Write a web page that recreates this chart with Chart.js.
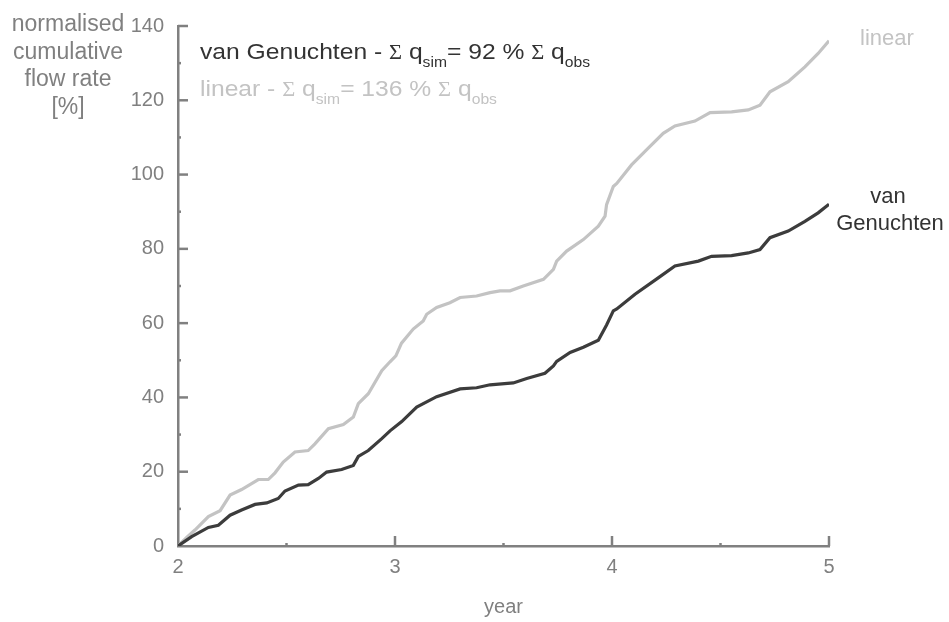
<!DOCTYPE html>
<html>
<head>
<meta charset="utf-8">
<script src="https://cdn.jsdelivr.net/npm/chart.js@4.4.0/dist/chart.umd.min.js"></script>
<style>
    body { margin: 0; background: #ffffff; }
    #wrap { width: 949px; height: 622px; }
</style>
</head>
<body>
<div id="wrap"><canvas id="flowChart" width="949" height="622"></canvas></div>
<script>
// Cumulative flow, linear model
const linearYears = [2.0, 2.04, 2.078, 2.14, 2.194, 2.24, 2.293, 2.37, 2.416, 2.447, 2.485, 2.539, 2.60, 2.631, 2.693,
    2.762, 2.808, 2.831, 2.877, 2.939, 2.977, 3.004, 3.03, 3.084, 3.13, 3.146, 3.192, 3.253, 3.30, 3.376, 3.438,
    3.484, 3.53, 3.591, 3.684, 3.73, 3.745, 3.791, 3.868, 3.937, 3.968, 3.975, 4.006, 4.022, 4.09, 4.167, 4.236,
    4.29, 4.382, 4.452, 4.551, 4.628, 4.682, 4.728, 4.812, 4.889, 4.95, 5.0];
const linearFlow = [0, 2.3, 4.3, 7.9, 9.5, 13.7, 15.2, 17.9, 17.9, 19.7, 22.6, 25.3, 25.7, 27.5, 31.6,
    32.7, 34.7, 38.3, 41.0, 47.2, 49.6, 51.2, 54.6, 58.4, 60.6, 62.4, 64.2, 65.5, 66.9, 67.3, 68.2,
    68.7, 68.7, 70.0, 71.8, 74.5, 76.7, 79.4, 82.5, 86.1, 88.8, 91.9, 96.8, 97.6, 102.6, 107.1, 111.1,
    113.1, 114.4, 116.7, 116.9, 117.4, 118.7, 122.3, 125.0, 129.0, 132.6, 136];

// Cumulative flow, van Genuchten model
const vgYears = [2.0, 2.063, 2.14, 2.186, 2.24, 2.293, 2.355, 2.409, 2.462, 2.493, 2.555, 2.60, 2.647, 2.685,
    2.754, 2.808, 2.831, 2.877, 2.939, 2.977, 3.031, 3.10, 3.192, 3.30, 3.376, 3.438, 3.545, 3.607, 3.691,
    3.73, 3.745, 3.807, 3.868, 3.937, 3.975, 4.006, 4.022, 4.106, 4.213, 4.29, 4.398, 4.459, 4.551, 4.628,
    4.682, 4.728, 4.812, 4.889, 4.95, 5.0];
const vgFlow = [0, 2.5, 5.0, 5.6, 8.3, 9.7, 11.2, 11.6, 12.8, 14.8, 16.4, 16.5, 18.2, 19.9,
    20.6, 21.7, 24.1, 25.7, 28.9, 31.0, 33.5, 37.4, 40.2, 42.3, 42.6, 43.4, 43.9, 45.1, 46.5,
    48.5, 49.7, 52.1, 53.5, 55.4, 59.5, 63.3, 63.8, 67.8, 72.2, 75.4, 76.7, 78.0, 78.2, 78.9,
    79.8, 83.0, 84.8, 87.4, 89.7, 92];

// Axis ticks
const yTicks = [0, 20, 40, 60, 80, 100, 120, 140];
const xTicks = [2, 3, 4, 5];

const AXIS_GREY = '#808080';
const DARK = '#3c3c3c';
const LIGHT = '#c3c3c3';
const SANS = "'Liberation Sans', Arial, sans-serif";

const toPoints = (xs, ys) => xs.map((x, i) => ({ x: x, y: ys[i] }));

// Draws text with subscripts and a serif sigma, left to right, slightly widened
const drawRich = (ctx, x, y, parts, color) => {
    ctx.save();
    ctx.translate(x, y);
    ctx.scale(1.12, 1);
    ctx.fillStyle = color;
    ctx.textBaseline = 'alphabetic';
    ctx.textAlign = 'left';
    let cx = 0;
    parts.forEach(([text, kind]) => {
        if (kind === 'sub') {
            ctx.font = `14px ${SANS}`;
            ctx.fillText(text, cx, 8);
        } else if (kind === 'sigma') {
            ctx.font = "20px 'Liberation Serif', serif";
            ctx.fillText(text, cx, 0);
        } else {
            ctx.font = `22px ${SANS}`;
            ctx.fillText(text, cx, 0);
        }
        cx += ctx.measureText(text).width;
    });
    ctx.restore();
};

// Inward tick marks, labels and annotations
const decorations = {
    id: 'decorations',
    afterDraw(chart) {
        const { ctx, scales: { x, y } } = chart;
        const left = x.left;
        const bottom = y.bottom;
        ctx.save();
        ctx.strokeStyle = AXIS_GREY;
        ctx.lineWidth = 2.5;

        // y ticks: major every 20, minor in between
        for (let i = 0; i < yTicks.length; i++) {
            const v = yTicks[i];
            if (v > 0) {
                const py = y.getPixelForValue(v);
                ctx.beginPath();
                ctx.moveTo(left, py);
                ctx.lineTo(left + 10, py);
                ctx.stroke();
            }
            if (i > 0) {
                const pm = y.getPixelForValue((v + yTicks[i - 1]) / 2);
                ctx.beginPath();
                ctx.moveTo(left, pm);
                ctx.lineTo(left + 3, pm);
                ctx.stroke();
            }
        }
        // x ticks: major every year, minor at half years
        for (let i = 1; i < xTicks.length; i++) {
            const px = x.getPixelForValue(xTicks[i]);
            ctx.beginPath();
            ctx.moveTo(px, bottom);
            ctx.lineTo(px, bottom - 10);
            ctx.stroke();
            const pm = x.getPixelForValue((xTicks[i] + xTicks[i - 1]) / 2);
            ctx.beginPath();
            ctx.moveTo(pm, bottom);
            ctx.lineTo(pm, bottom - 3);
            ctx.stroke();
        }

        // y axis title, stacked
        ctx.fillStyle = AXIS_GREY;
        ctx.font = `23px ${SANS}`;
        ctx.textAlign = 'center';
        ctx.textBaseline = 'alphabetic';
        ['normalised', 'cumulative', 'flow rate', '[%]'].forEach((line, i) => {
            ctx.fillText(line, 68, 31 + i * 27.7);
        });

        // summary lines
        drawRich(ctx, 200, 59, [
            ['van Genuchten - ', 'n'], ['Σ', 'sigma'], [' q', 'n'], ['sim', 'sub'],
            ['= 92 % ', 'n'], ['Σ', 'sigma'], [' q', 'n'], ['obs', 'sub']
        ], '#333333');
        drawRich(ctx, 200, 96, [
            ['linear - ', 'n'], ['Σ', 'sigma'], [' q', 'n'], ['sim', 'sub'],
            ['= 136 % ', 'n'], ['Σ', 'sigma'], [' q', 'n'], ['obs', 'sub']
        ], LIGHT);

        // series labels at the line ends
        ctx.font = `22px ${SANS}`;
        ctx.textAlign = 'center';
        ctx.textBaseline = 'middle';
        ctx.fillStyle = LIGHT;
        ctx.fillText('linear', 887, 39);
        ctx.fillStyle = '#333333';
        ctx.fillText('van', 888, 197);
        ctx.fillText('Genuchten', 890, 224);
        ctx.restore();
    }
};

document.addEventListener('DOMContentLoaded', () => {
    const ctx = document.getElementById('flowChart').getContext('2d');

    new Chart(ctx, {
        type: 'line',
        data: {
            datasets: [
                {
                    label: 'van Genuchten',
                    data: toPoints(vgYears, vgFlow),
                    borderColor: DARK,
                    borderWidth: 3.2,
                    pointRadius: 0,
                    tension: 0
                },
                {
                    label: 'linear',
                    data: toPoints(linearYears, linearFlow),
                    borderColor: LIGHT,
                    borderWidth: 3.2,
                    pointRadius: 0,
                    tension: 0
                }
            ]
        },
        options: {
            responsive: false,
            animation: false,
            devicePixelRatio: 1,
            layout: {
                padding: { left: 0, right: 120, top: 24, bottom: 0 }
            },
            plugins: {
                legend: { display: false },
                tooltip: { enabled: false }
            },
            scales: {
                x: {
                    type: 'linear',
                    min: 2,
                    max: 5,
                    afterFit: (scale) => { scale.height = 76; },
                    afterBuildTicks: (scale) => { scale.ticks = xTicks.map(v => ({ value: v })); },
                    grid: { display: false, drawTicks: false },
                    border: { display: true, color: AXIS_GREY, width: 2.5 },
                    ticks: {
                        color: AXIS_GREY,
                        padding: 9,
                        font: { family: SANS, size: 20 }
                    },
                    title: {
                        display: true,
                        text: 'year',
                        color: AXIS_GREY,
                        font: { family: SANS, size: 20 },
                        padding: { top: 0, bottom: 3 }
                    }
                },
                y: {
                    min: 0,
                    max: 140,
                    afterFit: (scale) => { scale.width = 178; },
                    afterBuildTicks: (scale) => { scale.ticks = yTicks.map(v => ({ value: v })); },
                    grid: { display: false, drawTicks: false },
                    border: { display: true, color: AXIS_GREY, width: 2.5 },
                    ticks: {
                        color: AXIS_GREY,
                        padding: 14,
                        font: { family: SANS, size: 20 }
                    }
                }
            }
        },
        plugins: [decorations]
    });
});
</script>
</body>
</html>
